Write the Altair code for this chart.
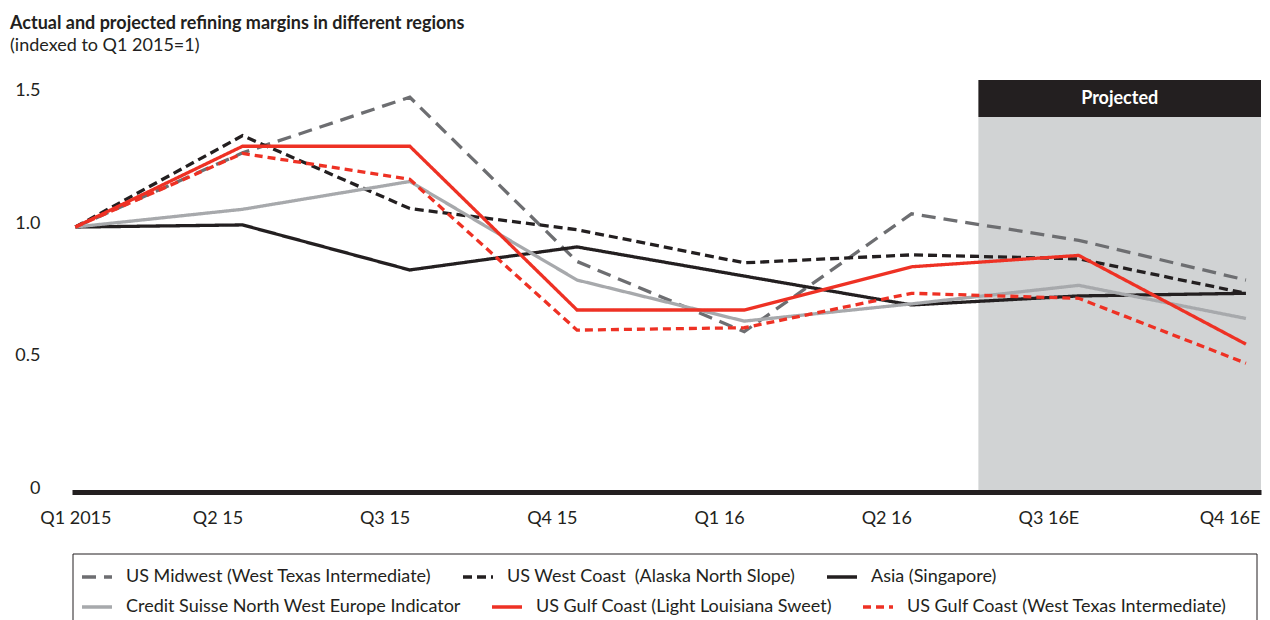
import altair as alt
import pandas as pd

FONT = "Lato"
INK = "#231f20"

# ---- data -------------------------------------------------------------
quarters = ["Q1 2015", "Q2 15", "Q3 15", "Q4 15", "Q1 16", "Q2 16", "Q3 16E", "Q4 16E"]

us_midwest_wti = [1.0, 1.28, 1.49, 0.87, 0.605, 1.05, 0.95, 0.80]
us_west_coast_ans = [1.0, 1.345, 1.07, 0.99, 0.865, 0.895, 0.88, 0.75]
asia_singapore = [1.0, 1.008, 0.838, 0.925, 0.815, 0.706, 0.74, 0.75]
credit_suisse_nwe = [1.0, 1.067, 1.172, 0.80, 0.645, 0.71, 0.78, 0.655]
us_gulf_lls = [1.0, 1.305, 1.305, 0.687, 0.687, 0.85, 0.893, 0.558]
us_gulf_wti = [1.0, 1.278, 1.18, 0.611, 0.62, 0.75, 0.731, 0.486]

# legend row 1 and row 2 (each: name, values, colour, dash)
row1_names = [
    "US Midwest (West Texas Intermediate)",
    "US West Coast\u00a0 (Alaska North Slope)",
    "Asia (Singapore)",
]
row1_values = [us_midwest_wti, us_west_coast_ans, asia_singapore]
row1_colors = ["#6d6e71", INK, INK]
row1_dashes = [[14, 8], [9, 5], [1, 0]]

row2_names = [
    "Credit Suisse North West Europe Indicator",
    "US Gulf Coast (Light Louisiana Sweet)",
    "US Gulf Coast (West Texas Intermediate)",
]
row2_values = [credit_suisse_nwe, us_gulf_lls, us_gulf_wti]
row2_colors = ["#a7a9ac", "#ee3124", "#ee3124"]
row2_dashes = [[1, 0], [1, 0], [8, 5]]

projected_label = "Projected"
projected_start = 5.4      # projected period begins between Q2 16 and Q3 16E
header_bottom = 1.415      # lower edge of the "Projected" header band

X_DOMAIN = [-0.02, 7.09]
Y_DOMAIN = [0, 1.555]


def long_table(names, values):
    rows = []
    for name, vals in zip(names, values):
        for i, v in enumerate(vals):
            rows.append({"series": name, "idx": i, "quarter": quarters[i], "value": v})
    return pd.DataFrame(rows)


df1 = long_table(row1_names, row1_values)
df2 = long_table(row2_names, row2_values)

band_df = pd.DataFrame([
    {"part": "body", "x0": projected_start, "x1": X_DOMAIN[1], "y0": 0, "y1": header_bottom},
    {"part": "header", "x0": projected_start, "x1": X_DOMAIN[1], "y0": header_bottom, "y1": Y_DOMAIN[1]},
])
label_df = pd.DataFrame([{
    "x": (projected_start + X_DOMAIN[1]) / 2,
    "y": (header_bottom + Y_DOMAIN[1]) / 2,
    "text": projected_label,
}])

xscale = alt.Scale(domain=X_DOMAIN, nice=False, zero=False)
yscale = alt.Scale(domain=Y_DOMAIN, nice=False, zero=False)

label_array = "[" + ",".join("'" + q + "'" for q in quarters) + "]"
last_idx = len(quarters) - 1

x_axis = alt.Axis(
    title=None, values=list(range(len(quarters))),
    labelExpr=label_array + "[datum.value]",
    ticks=False, grid=False, domain=True, domainColor=INK, domainWidth=5,
    labelFont=FONT, labelFontSize=18, labelColor=INK, labelPadding=17,
    labelOverlap=False, labelFlush=False, labelBound=False,
    labelAlign={"condition": {"test": "datum.value == 0", "value": "center"}, "value": "right"},
    labelOffset={"condition": {"test": "datum.value == %d" % last_idx, "value": 14}, "value": 0},
    zindex=2,
)
y_axis = alt.Axis(
    title=None, values=[0, 0.5, 1.0, 1.5],
    labelExpr="datum.value == 0 ? '0' : format(datum.value, '.1f')",
    ticks=False, grid=False, domain=False,
    labelFont=FONT, labelFontSize=18, labelColor=INK, labelPadding=32,
    labelBaseline="middle", labelOffset=-4,
)

band = alt.Chart(band_df).mark_rect().encode(
    x=alt.X("x0:Q", scale=xscale, axis=x_axis),
    x2="x1:Q",
    y=alt.Y("y0:Q", scale=yscale, axis=y_axis),
    y2="y1:Q",
    color=alt.Color("part:N", scale=alt.Scale(domain=["body", "header"], range=["#d1d3d4", INK]), legend=None),
)

band_text = alt.Chart(label_df).mark_text(
    font=FONT, fontSize=18, fontWeight="bold", color="white", baseline="middle", align="center"
).encode(
    x=alt.X("x:Q", scale=xscale, axis=x_axis),
    y=alt.Y("y:Q", scale=yscale, axis=y_axis),
    text="text:N",
)


def legend_for(ypos):
    return alt.Legend(
        title=None, orient="none", legendX=8, legendY=ypos, direction="horizontal",
        symbolType="stroke", symbolSize=900,
        symbolStrokeWidth=3.5, labelFont=FONT, labelFontSize=18, labelColor=INK,
        labelOffset=12, columnPadding=24, padding=0, labelLimit=0,
    )


def line_layer(data, names, colors, dashes, ypos):
    lg = legend_for(ypos)
    return alt.Chart(data).mark_line(strokeWidth=3.3, strokeCap="butt").encode(
        x=alt.X("idx:Q", scale=xscale, axis=x_axis),
        y=alt.Y("value:Q", scale=yscale, axis=y_axis),
        color=alt.Color("series:N", scale=alt.Scale(domain=names, range=colors),
                        sort=names, legend=lg),
        strokeDash=alt.StrokeDash("series:N", scale=alt.Scale(domain=names, range=dashes),
                                  sort=names, legend=lg),
        detail="series:N",
    )


lines1 = line_layer(df1, row1_names, row1_colors, row1_dashes, 480)
lines2 = line_layer(df2, row2_names, row2_colors, row2_dashes, 510)

# frame drawn around the two legend rows
legend_frame = alt.Chart(band_df.head(1)).mark_rect(
    fill=None, stroke=INK, strokeWidth=1, clip=False
).encode(
    x=alt.value(1), x2=alt.value(1185), y=alt.value(474), y2=alt.value(560)
)

chart = alt.layer(band, band_text, lines1, lines2, legend_frame).resolve_scale(
    color="independent", strokeDash="independent"
).properties(
    width=1189,
    height=412,
    background="white",
    autosize=alt.AutoSizeParams(type="none"),
    padding={"left": 64, "top": 72, "right": 1, "bottom": 128},
    title=alt.TitleParams(
        text="Actual and projected refining margins in different regions",
        subtitle="(indexed to Q1 2015=1)",
        anchor="start", frame="group", dx=-62, offset=25,
        font=FONT, fontSize=18, fontWeight="bold", color=INK,
        subtitleFont=FONT, subtitleFontSize=18, subtitleColor=INK, subtitlePadding=4,
    ),
).configure_view(stroke=None)

chart.save("out.html", embed_options={"renderer": "svg", "actions": False})
